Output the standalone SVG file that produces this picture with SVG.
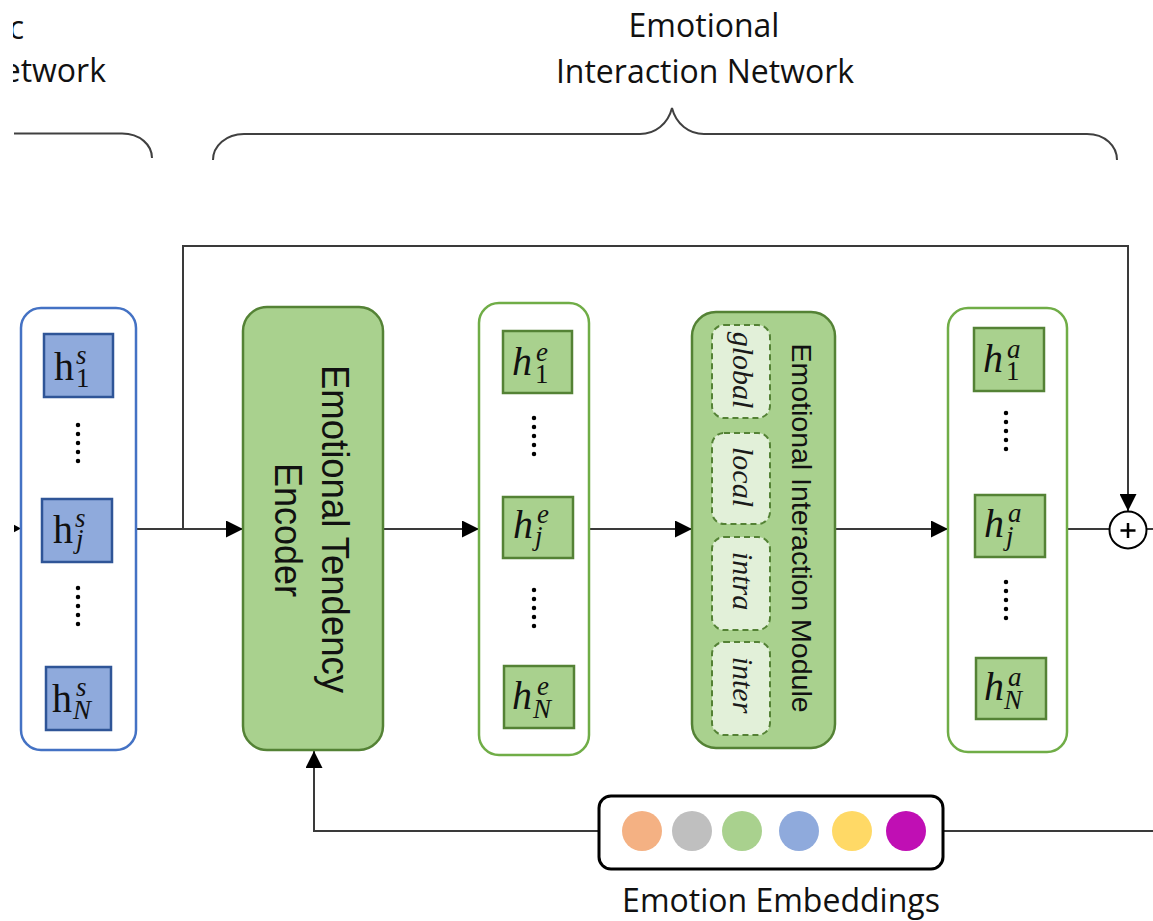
<svg xmlns="http://www.w3.org/2000/svg" width="1153" height="921" viewBox="0 0 1153 921">
  <defs>
    <marker id="ah" viewBox="0 0 10 10" refX="10" refY="5" markerWidth="17" markerHeight="17" markerUnits="userSpaceOnUse" orient="auto">
      <path d="M0,0 L10,5 L0,10 z" fill="#000"/>
    </marker>
    <clipPath id="edge"><rect x="13" y="0" width="1140" height="921"/></clipPath>
    <style>
      .title { font-family: "Open Sans", "Liberation Sans", sans-serif; font-size: 32px; fill: #111; }
      .brace { fill: none; stroke: #404040; stroke-width: 2; }
      .conn { fill: none; stroke: #3a3a3a; stroke-width: 2; }
      .arrow { marker-end: url(#ah); }
      .bluebox { fill: #fff; stroke: #4472C4; stroke-width: 2.5; }
      .bcell { fill: #8FAADC; stroke: #2F5597; stroke-width: 2.5; }
      .gbox { fill: #fff; stroke: #70AD47; stroke-width: 2.5; }
      .gcell { fill: #A9D18E; stroke: #548235; stroke-width: 2.5; }
      .gblock { fill: #A9D18E; stroke: #548235; stroke-width: 2.5; }
      .sub { fill: #E2F0D9; stroke: #548235; stroke-width: 2; stroke-dasharray: 6 4; }
      .dots { fill: none; stroke: #000; stroke-width: 4.5; stroke-linecap: round; stroke-dasharray: 0 9; }
      .math { font-family: "Liberation Serif", "DejaVu Serif", serif; fill: #111; }
      .h { font-size: 40px; }
      .s { font-size: 27px; }
      .i { font-style: italic; }
      .lbl { font-family: "Liberation Sans", Arial, sans-serif; fill: #111; }
      .it { font-family: "Liberation Serif", "DejaVu Serif", serif; font-style: italic; font-size: 30px; fill: #1a1a1a; }
    </style>
  </defs>

  <!-- section titles and braces -->
  <g id="titles">
    <g clip-path="url(#edge)">
      <text class="title" x="24" y="39" text-anchor="end">c</text>
      <text class="title" x="106" y="82" text-anchor="end">Network</text>
    </g>
    <text class="title" x="704" y="37" text-anchor="middle">Emotional</text>
    <text class="title" x="705" y="83" text-anchor="middle">Interaction Network</text>
    <path class="brace" d="M14,133.5 H122 C140,133.5 152,145 152,158"/>
    <path class="brace" d="M213,160 C213,146 226,134 244,134 H640 C655,134 668,124 672,108 C676,124 689,134 704,134 H1087 C1105,134 1117,146 1117,160"/>
  </g>

  <!-- connectors -->
  <g id="connectors">
    <polygon points="14,524.7 21,528.5 14,532.3" fill="#000"/>
    <path class="conn arrow" d="M136,529 H243"/>
    <path class="conn arrow" d="M183,529 V246 H1128 V511"/>
    <path class="conn arrow" d="M383,529 H479"/>
    <path class="conn arrow" d="M589,529 H692"/>
    <path class="conn arrow" d="M835,529 H948"/>
    <path class="conn" d="M1067,529 H1109.5"/>
    <path class="conn" d="M1146.5,529 H1153"/>
    <path class="conn arrow" d="M599,831 H314 V751"/>
    <path class="conn" d="M943,831 H1153"/>
  </g>

  <!-- utterance states h^s -->
  <g id="speaker-states">
    <rect class="bluebox" x="21" y="308" width="115" height="442" rx="20"/>
    <rect class="bcell" x="44" y="334" width="69" height="63"/>
    <text class="math"><tspan class="h" x="54" y="380">h</tspan><tspan class="s i" x="76" y="364">s</tspan><tspan class="s" x="76" y="387">1</tspan></text>
    <path class="dots" d="M78,425 V470"/>
    <rect class="bcell" x="42" y="499" width="70" height="63"/>
    <text class="math"><tspan class="h" x="53" y="543">h</tspan><tspan class="s i" x="75" y="527">s</tspan><tspan class="s i" x="76" y="548">j</tspan></text>
    <path class="dots" d="M78,588 V633"/>
    <rect class="bcell" x="46" y="667" width="65" height="63"/>
    <text class="math"><tspan class="h" x="52" y="712">h</tspan><tspan class="s i" x="76" y="696">s</tspan><tspan class="s i" x="73" y="719">N</tspan></text>
  </g>

  <!-- emotional tendency encoder -->
  <g id="encoder">
    <rect class="gblock" x="243" y="307" width="140" height="443" rx="24"/>
    <text class="lbl" font-size="38" text-anchor="middle" textLength="328" lengthAdjust="spacingAndGlyphs" transform="translate(322,529) rotate(90)">Emotional Tendency</text>
    <text class="lbl" font-size="38" text-anchor="middle" textLength="134" lengthAdjust="spacingAndGlyphs" transform="translate(275,530) rotate(90)">Encoder</text>
  </g>

  <!-- emotion states h^e -->
  <g id="emotion-states">
    <rect class="gbox" x="479" y="303" width="110" height="452" rx="20"/>
    <rect class="gcell" x="503" y="331" width="69" height="62"/>
    <text class="math i"><tspan class="h" x="512" y="375">h</tspan><tspan class="s" x="536" y="361">e</tspan><tspan class="s" x="535" y="383" font-style="normal">1</tspan></text>
    <path class="dots" d="M534,418 V463"/>
    <rect class="gcell" x="503" y="497" width="70" height="61"/>
    <text class="math i"><tspan class="h" x="513" y="538">h</tspan><tspan class="s" x="537" y="523">e</tspan><tspan class="s" x="535" y="545">j</tspan></text>
    <path class="dots" d="M534,590 V635"/>
    <rect class="gcell" x="504" y="666" width="70" height="62"/>
    <text class="math i"><tspan class="h" x="512" y="709">h</tspan><tspan class="s" x="537" y="695">e</tspan><tspan class="s" x="533" y="718">N</tspan></text>
  </g>

  <!-- emotional interaction module -->
  <g id="interaction-module">
    <rect class="gblock" x="692" y="312" width="143" height="436" rx="24"/>
    <rect class="sub" x="712" y="325" width="58" height="93" rx="12"/>
    <rect class="sub" x="712" y="433" width="58" height="91" rx="12"/>
    <rect class="sub" x="712" y="537" width="58" height="93" rx="12"/>
    <rect class="sub" x="712" y="642" width="58" height="93" rx="12"/>
    <text class="it" text-anchor="middle" transform="translate(733,370) rotate(90)">global</text>
    <text class="it" text-anchor="middle" transform="translate(733,477) rotate(90)">local</text>
    <text class="it" text-anchor="middle" transform="translate(733,581) rotate(90)">intra</text>
    <text class="it" text-anchor="middle" transform="translate(733,685) rotate(90)">inter</text>
    <text class="lbl" font-size="28.5" text-anchor="middle" transform="translate(792,528) rotate(90)">Emotional Interaction Module</text>
  </g>

  <!-- interaction states h^a -->
  <g id="interaction-states">
    <rect class="gbox" x="948" y="308" width="119" height="444" rx="20"/>
    <rect class="gcell" x="974" y="328" width="70" height="63"/>
    <text class="math i"><tspan class="h" x="983" y="372">h</tspan><tspan class="s" x="1007" y="358">a</tspan><tspan class="s" x="1006" y="380" font-style="normal">1</tspan></text>
    <path class="dots" d="M1006,413 V458"/>
    <rect class="gcell" x="975" y="495" width="70" height="62"/>
    <text class="math i"><tspan class="h" x="984" y="537">h</tspan><tspan class="s" x="1008" y="522">a</tspan><tspan class="s" x="1006" y="545">j</tspan></text>
    <path class="dots" d="M1006,582 V627"/>
    <rect class="gcell" x="976" y="658" width="70" height="61"/>
    <text class="math i"><tspan class="h" x="984" y="700">h</tspan><tspan class="s" x="1008" y="686">a</tspan><tspan class="s" x="1004" y="709">N</tspan></text>
  </g>

  <!-- residual sum -->
  <g id="sum">
    <circle cx="1128" cy="530" r="18.5" fill="#fff" stroke="#000" stroke-width="2"/>
    <path d="M1120.5,530.5 H1135.5 M1128,523 V538" stroke="#000" stroke-width="2.5" fill="none"/>
  </g>

  <!-- emotion embeddings -->
  <g id="emotion-embeddings">
    <rect x="599" y="796" width="344" height="73" rx="12" fill="#fff" stroke="#000" stroke-width="3"/>
    <circle cx="642" cy="831" r="20" fill="#F4B183"/>
    <circle cx="692" cy="831" r="20" fill="#BFBFBF"/>
    <circle cx="742" cy="831" r="20" fill="#A9D18E"/>
    <circle cx="799" cy="831" r="20" fill="#8FAADC"/>
    <circle cx="852" cy="831" r="20" fill="#FFD966"/>
    <circle cx="906" cy="831" r="20" fill="#C00FB4"/>
    <text class="title" x="781" y="912" text-anchor="middle">Emotion Embeddings</text>
  </g>
</svg>
